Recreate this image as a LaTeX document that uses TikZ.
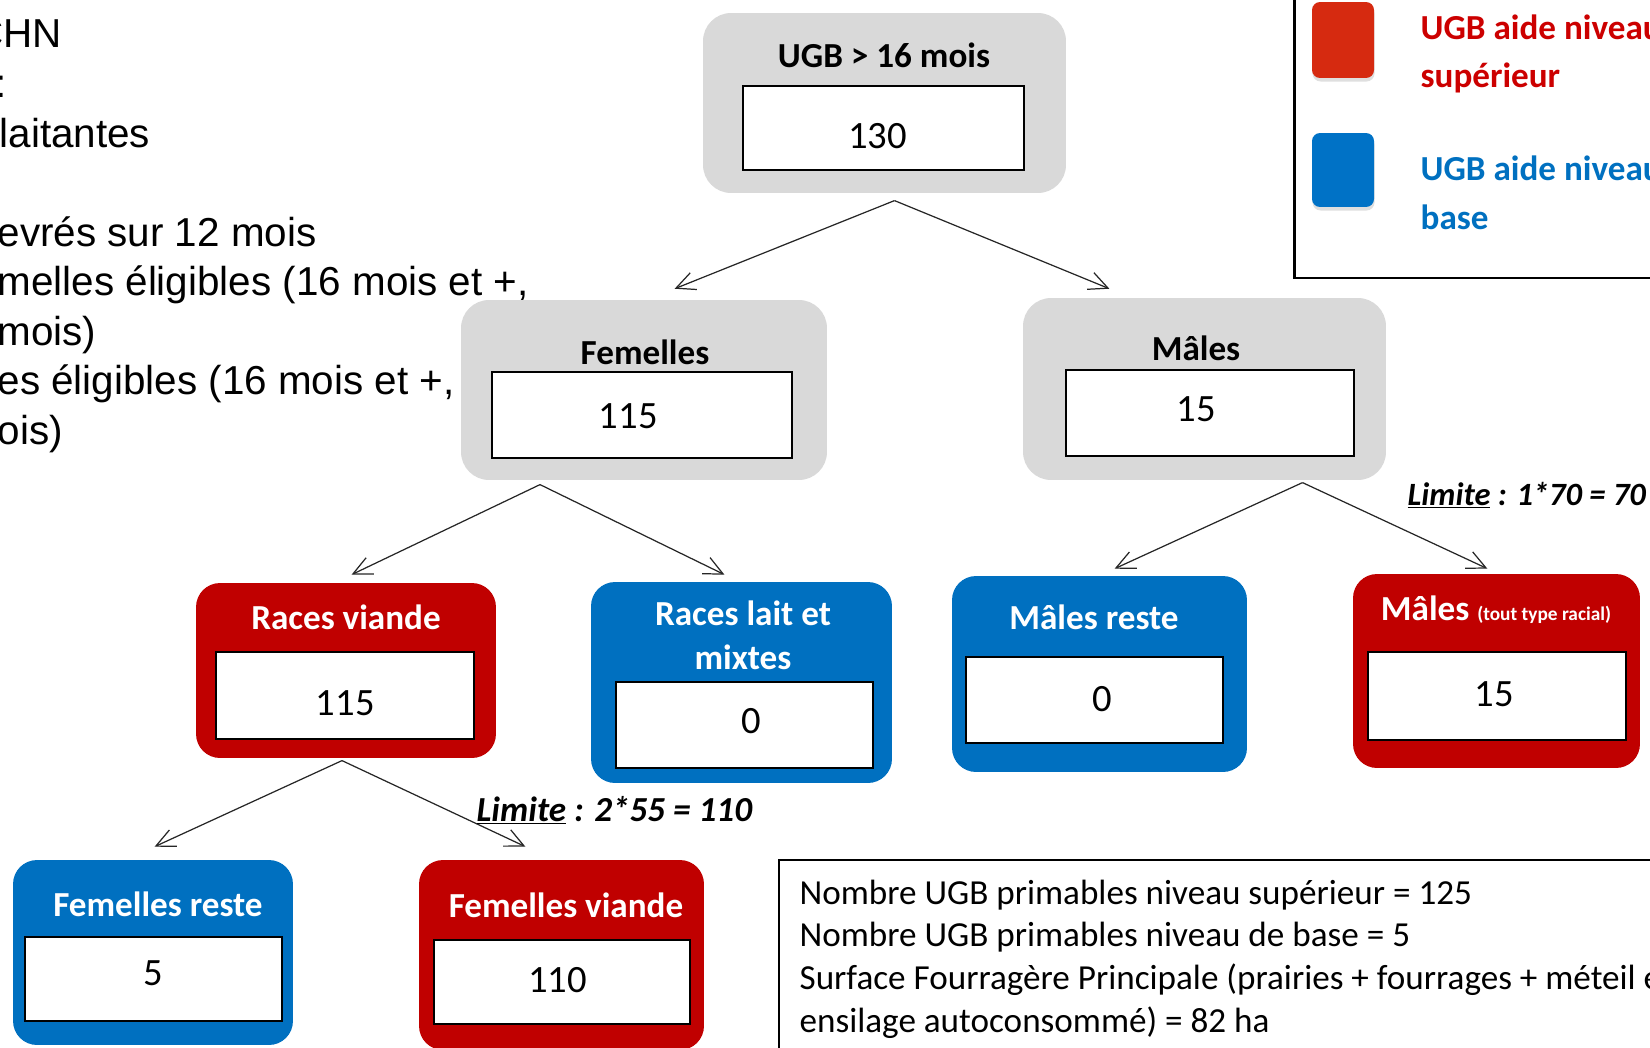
\documentclass[tikz,border=0pt]{standalone}
\usepackage{fontspec}
\setmainfont{Carlito}
\newfontfamily\arialfont{Liberation Sans}
\usetikzlibrary{arrows.meta, calc, shadows}

\definecolor{boxgrey}{HTML}{D9D9D9}
\definecolor{boxred}{HTML}{C00000}
\definecolor{boxblue}{HTML}{0070C0}
\definecolor{legred}{HTML}{D62A10}
\definecolor{legredtext}{HTML}{CC0000}
\definecolor{legblue}{HTML}{0072C6}

\begin{document}
\begin{tikzpicture}[x=0.02cm,y=-0.02cm,>={Straight Barb[length=3.8mm,width=3.6mm]},shorten >=1pt,
  line width=0.7pt,
  grey node/.style={rounded corners=0.56cm,fill=boxgrey,inner sep=0pt},
  red node/.style={rounded corners=0.48cm,fill=boxred,inner sep=0pt},
  blue node/.style={rounded corners=0.48cm,fill=boxblue,inner sep=0pt},
  value node/.style={draw=black,line width=0.85pt,fill=white,inner sep=0pt},
  num node/.style={inner sep=0pt,font=\fontsize{22}{26}\selectfont},
  title node/.style={font=\fontsize{20}{25}\selectfont\bfseries,align=center},
  white title/.style={title node,text=white},
  limit node/.style={anchor=base west,inner sep=0pt,font=\fontsize{20}{24}\selectfont\bfseries\itshape},
  text line/.style={anchor=base west,inner sep=0pt,font=\fontsize{20}{24}\selectfont},
  side line/.style={anchor=base west,inner sep=0pt,font=\arialfont\fontsize{23}{28}\selectfont},
  legend line/.style={anchor=base west,inner sep=0pt,font=\fontsize{20}{24}\selectfont\bfseries},
  legend key/.style={rounded corners=0.16cm,inner sep=0pt,minimum width=1.24cm,
    drop shadow={shadow xshift=0.3pt,shadow yshift=-2pt,opacity=0.25}}]
  \useasboundingbox (0,0) rectangle (1650,1048);
  \clip (0,0) rectangle (1650,1048);

  % text on the left, cut by the page edge
  \node[side line] (s1) at (-26,48) {CHN};
  \node[side line] (s2) at (-5,97.5) {:};
  \node[side line] (s3) at (-1,147) {laitantes};
  \node[side line] (s4) at (-3,246) {evrés sur 12 mois};
  \node[side line] (s5) at (-3,295.5) {melles éligibles (16 mois et +,};
  \node[side line] (s6) at (-3,345) {mois)};
  \node[side line] (s7) at (-3,394.5) {es éligibles (16 mois et +,};
  \node[side line] (s8) at (-3,444) {ois)};

  % tree
  \node[grey node,minimum width=7.26cm,minimum height=3.6cm] (1) at (884.5,103) {};
  \node[title node] (t1) at (884,55) {UGB > 16 mois};
  \node[value node,minimum width=5.62cm,minimum height=1.68cm] (v1) at (883.5,128) {};
  \node[num node] (n1) at (877.6,135.7) {130};

  \node[grey node,minimum width=7.32cm,minimum height=3.6cm] (2) at (644,390) {};
  \node[title node] (t2) at (645,352) {Femelles};
  \node[value node,minimum width=6cm,minimum height=1.72cm] (v2) at (642,415) {};
  \node[num node] (n2) at (628.2,415.7) {115};

  \node[grey node,minimum width=7.26cm,minimum height=3.64cm] (3) at (1204.5,389) {};
  \node[title node] (t3) at (1196,348) {Mâles};
  \node[value node,minimum width=5.76cm,minimum height=1.72cm] (v3) at (1210,413) {};
  \node[num node] (n3) at (1196.5,409.3) {15};

  \node[red node,minimum width=6cm,minimum height=3.5cm] (4) at (346,670.5) {};
  \node[white title] (t4) at (346,617) {Races viande};
  \node[value node,minimum width=5.16cm,minimum height=1.74cm] (v4) at (345,695.5) {};
  \node[num node] (n4) at (345.2,703) {115};

  \node[blue node,minimum width=6.02cm,minimum height=4.02cm] (5) at (741.5,682.5) {};
  \node[white title] (t5) at (743,635) {Races lait et\\mixtes};
  \node[value node,minimum width=5.14cm,minimum height=1.72cm] (v5) at (744.5,725) {};
  \node[num node] (n5) at (751.3,720.8) {0};

  \node[blue node,minimum width=5.9cm,minimum height=3.92cm] (6) at (1099.5,674) {};
  \node[white title] (t6) at (1094,617) {Mâles reste};
  \node[value node,minimum width=5.14cm,minimum height=1.72cm] (v6) at (1094.5,700) {};
  \node[num node] (n6) at (1101.8,698.7) {0};

  \node[red node,minimum width=5.74cm,minimum height=3.88cm] (7) at (1496.5,671) {};
  \node[white title] (t7) at (1496,610) {Mâles {\fontsize{11}{13}\selectfont (tout type racial)}};
  \node[value node,minimum width=5.16cm,minimum height=1.76cm] (v7) at (1497,696) {};
  \node[num node] (n7) at (1494.3,694.5) {15};

  \node[blue node,minimum width=5.6cm,minimum height=3.7cm] (8) at (153,952.5) {};
  \node[white title] (t8) at (158,904) {Femelles reste};
  \node[value node,minimum width=5.14cm,minimum height=1.68cm] (v8) at (153.5,979) {};
  \node[num node] (n8) at (153.6,973.4) {5};

  \node[red node,minimum width=5.7cm,minimum height=3.8cm] (9) at (561.5,955) {};
  \node[white title] (t9) at (566,905) {Femelles viande};
  \node[value node,minimum width=5.12cm,minimum height=1.68cm] (v9) at (562,982) {};
  \node[num node] (n9) at (557.7,979.7) {110};

  \path[->,color=black!85]
    ($(1.south)+(10,7)$)   edge ($(2.north)+(29,-10)$)
                           edge ($(3.north)+(-93.5,-8)$)
    ($(2.south)+(-104,4)$) edge ($(4.north)+(4,-7)$)
                           edge ($(5.north)+(-15.5,-6)$)
    ($(3.south)+(98,2)$)   edge ($(6.north)+(13.5,-6)$)
                           edge ($(7.north)+(-7.5,-4)$)
    ($(4.south)+(-4,2)$)   edge ($(8.north)+(0,-12)$)
                           edge ($(9.north)+(-34.5,-12)$);

  \node[limit node,font=\fontsize{18.5}{22}\selectfont\bfseries\itshape] (lim1) at (1407,505) {\underline{Limite} : 1*70 = 70};
  \node[limit node] (lim2) at (476,821) {\underline{Limite} : 2*55 = 110};

  % legend
  \draw[line width=1.7pt] (1294,-20) rectangle (1700,278);
  \node[legend key,fill=legred,minimum height=1.52cm] (lr) at (1343,40) {};
  \node[legend line,text=legredtext] (l1) at (1420,39) {UGB aide niveau};
  \node[legend line,text=legredtext] (l2) at (1420,87.5) {supérieur};
  \node[legend key,fill=legblue,minimum height=1.48cm] (lb) at (1343,170) {};
  \node[legend line,text=boxblue] (l3) at (1420,180.5) {UGB aide niveau};
  \node[legend line,text=boxblue] (l4) at (1420,229) {base};

  % summary box
  \draw[line width=0.85pt] (779,860) rectangle (1700,1100);
  \node[text line] (i1) at (799,904) {Nombre UGB primables niveau supérieur = 125};
  \node[text line] (i2) at (799,946.7) {Nombre UGB primables niveau de base = 5};
  \node[text line] (i3) at (799,989.4) {Surface Fourragère Principale (prairies + fourrages + méteil e};
  \node[text line] (i4) at (799,1032) {ensilage autoconsommé) = 82 ha};
\end{tikzpicture}
\end{document}
